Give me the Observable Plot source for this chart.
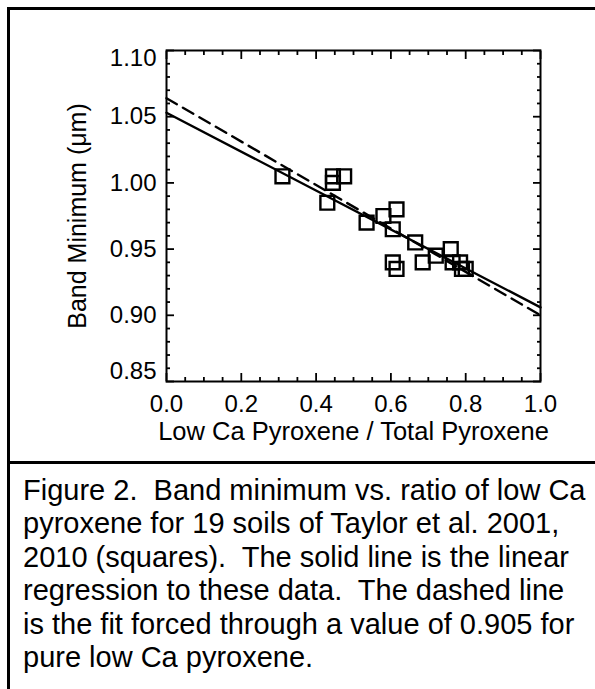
<!DOCTYPE html>
<html>
<head>
<meta charset="utf-8">
<script src="https://cdn.jsdelivr.net/npm/d3@7"></script>
<script src="https://cdn.jsdelivr.net/npm/@observablehq/plot@0.6"></script>
<style>
  html, body { margin: 0; padding: 0; background: #fff; }
  #page { position: relative; width: 595px; height: 689px; overflow: hidden; background: #fff; }
  #box { position: absolute; left: 7px; top: 7px; width: 700px; height: 800px; border-left: 3px solid #000; border-top: 3px solid #000; }
  #divider { position: absolute; left: 7px; top: 461px; width: 700px; border-top: 3px solid #000; }
  #chart { position: absolute; left: 0; top: 0; }
  #caption { position: absolute; left: 23px; top: 474px; font-family: "Liberation Sans", Arial, sans-serif; font-size: 29px; line-height: 33.4px; white-space: pre; color: #000; }
</style>
</head>
<body>
<div id="page">
  <div id="box"></div>
  <div id="divider"></div>
  <div id="chart"></div>
  <div id="caption"></div>
</div>
<script>
// ---- data ----
const lowCaRatio = [0.31, 0.445, 0.445, 0.475, 0.43, 0.535, 0.58, 0.615, 0.605, 0.665,
                    0.605, 0.615, 0.685, 0.72, 0.76, 0.765, 0.785, 0.79, 0.80];
const bandMinimum = [1.005, 1.005, 1.000, 1.005, 0.985, 0.970, 0.975, 0.980, 0.965, 0.955,
                     0.940, 0.935, 0.940, 0.945, 0.950, 0.940, 0.940, 0.935, 0.935];
const fitX = [0.0, 1.0];
const solidFitY = [1.053, 0.906];   // linear regression
const dashedFitY = [1.064, 0.900];  // fit forced through pure low Ca pyroxene

const xMajorTicks = [0.0, 0.2, 0.4, 0.6, 0.8, 1.0];
const xMinorTicks = [0.05, 0.10, 0.15, 0.25, 0.30, 0.35, 0.45, 0.50, 0.55, 0.65, 0.70, 0.75, 0.85, 0.90, 0.95];
const yMajorTicks = [0.85, 0.90, 0.95, 1.00, 1.05, 1.10];
const yMidLabels = [0.90, 0.95, 1.00, 1.05];
const yTopLabel = [1.10];
const yBottomLabel = [0.85];
const yMinorTicks = [0.86,0.87,0.88,0.89,0.91,0.92,0.93,0.94,0.96,0.97,0.98,0.99,1.01,1.02,1.03,1.04,1.06,1.07,1.08,1.09];

const xTitle = "Low Ca Pyroxene / Total Pyroxene";
const yTitle = "Band Minimum (\u03bcm)";
const captionLines = [
  "Figure 2.  Band minimum vs. ratio of low Ca",
  "pyroxene for 19 soils of Taylor et al. 2001,",
  "2010 (squares).  The solid line is the linear",
  "regression to these data.  The dashed line",
  "is the fit forced through a value of 0.905 for",
  "pure low Ca pyroxene."
];

// ---- tables built from the arrays ----
const points = lowCaRatio.map((x, i) => ({x, y: bandMinimum[i]}));
const solidLine = fitX.map((x, i) => ({x, y: solidFitY[i]}));
const dashedLine = fitX.map((x, i) => ({x, y: dashedFitY[i]}));

const blank = () => "";
const tickStyle = {tickFormat: blank, label: null, strokeWidth: 1.8};

const chart = Plot.plot({
  width: 595,
  height: 461,
  marginLeft: 166,
  marginRight: 55,
  marginTop: 50,
  marginBottom: 80,
  style: {background: "transparent", fontFamily: "Liberation Sans, Arial, sans-serif", fontSize: "24px", color: "#000"},
  x: {domain: [0, 1]},
  y: {domain: [0.85, 1.10]},
  marks: [
    // inward ticks on all four sides
    Plot.axisX(xMajorTicks, {anchor: "bottom", tickSize: -8, ...tickStyle}),
    Plot.axisX(xMajorTicks, {anchor: "top", tickSize: -8, ...tickStyle}),
    Plot.axisX(xMinorTicks, {anchor: "bottom", tickSize: -4, ...tickStyle}),
    Plot.axisX(xMinorTicks, {anchor: "top", tickSize: -4, ...tickStyle}),
    Plot.axisY(yMajorTicks, {anchor: "left", tickSize: -8, ...tickStyle}),
    Plot.axisY(yMajorTicks, {anchor: "right", tickSize: -8, ...tickStyle}),
    Plot.axisY(yMinorTicks, {anchor: "left", tickSize: -4, ...tickStyle}),
    Plot.axisY(yMinorTicks, {anchor: "right", tickSize: -4, ...tickStyle}),
    // tick labels
    Plot.axisX(xMajorTicks, {anchor: "bottom", tickSize: 0, tickPadding: 13, tickFormat: d3.format(".1f"), label: null, fontSize: 24}),
    Plot.axisY(yMidLabels, {anchor: "left", tickSize: 0, tickPadding: 10, tickFormat: d3.format(".2f"), label: null, fontSize: 24}),
    Plot.axisY(yTopLabel, {anchor: "left", tickSize: 0, tickPadding: 10, tickFormat: d3.format(".2f"), label: null, dy: 8, fontSize: 24}),
    Plot.axisY(yBottomLabel, {anchor: "left", tickSize: 0, tickPadding: 10, tickFormat: d3.format(".2f"), label: null, dy: -10, fontSize: 24}),
    // axis titles
    Plot.axisX(xMajorTicks, {anchor: "bottom", tickSize: 0, tickFormat: blank,
      label: xTitle, labelAnchor: "center", labelOffset: 58, labelArrow: "none", fontSize: 25.5}),
    Plot.axisY(yMidLabels, {anchor: "left", tickSize: 0, tickFormat: blank,
      label: yTitle, labelAnchor: "center", labelOffset: 98, labelArrow: "none", fontSize: 25}),
    // fits
    Plot.line(solidLine, {x: "x", y: "y", stroke: "#000", strokeWidth: 2.4}),
    Plot.line(dashedLine, {x: "x", y: "y", stroke: "#000", strokeWidth: 2.4, strokeDasharray: "12,7"}),
    // data
    Plot.dot(points, {x: "x", y: "y", symbol: "square", r: 7.8, stroke: "#000", strokeWidth: 2.4, fill: "none"}),
    Plot.frame({stroke: "#000", strokeWidth: 2})
  ]
});
document.getElementById("chart").appendChild(chart);
document.getElementById("caption").textContent = captionLines.join("\n");
</script>
</body>
</html>
